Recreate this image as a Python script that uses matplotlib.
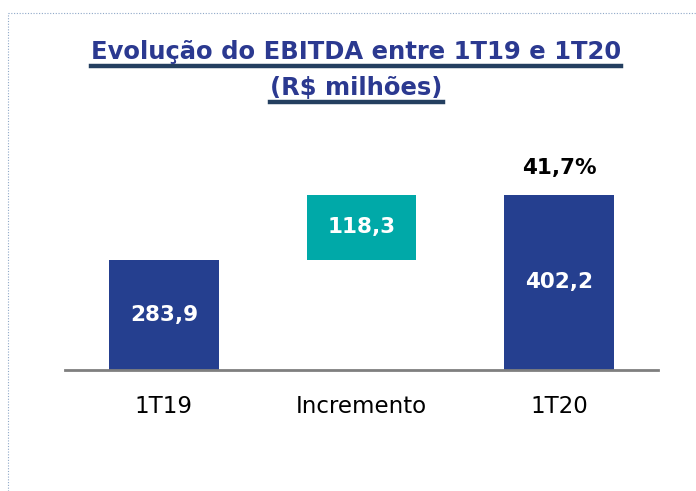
import numpy as np
import matplotlib.pyplot as plt
from matplotlib.lines import Line2D

categories = ["1T19", "Incremento", "1T20"]
starts = [0, 283.9, 0]
values = [283.9, 118.3, 402.2]
labels = ["283,9", "118,3", "402,2"]
growth = "41,7%"

navy = "#253f8f"
teal = "#00a9a8"
colors = [navy, teal, navy]

fig = plt.figure(figsize=(6.96, 4.91), dpi=100)
ax = fig.add_axes([0.0934, 0.2464, 0.852, 0.4888])

x = np.arange(len(categories))
bars = ax.bar(x, values, bottom=starts, width=0.555, color=colors)

for b, lab in zip(bars, labels):
    cx = b.get_x() + b.get_width() / 2
    cy = b.get_y() + b.get_height() / 2
    if b.get_y() == 0:
        cy = 84 + (b.get_y() + b.get_height() - 84) / 2
    ax.text(cx, cy, lab, ha="center", va="center", color="white",
            fontsize=15.5, fontweight="bold")

ax.text(x[2], values[2] + 30, growth, ha="center", va="bottom",
        fontsize=15.5, fontweight="bold", color="black")

ax.set_xlim(-0.5, 2.5)
ax.set_ylim(84, 520)
ax.set_xticks(x)
ax.set_xticklabels(categories, fontsize=16.5)
ax.tick_params(axis="x", length=0, pad=18)
ax.set_yticks([])
for s in ["top", "right", "left"]:
    ax.spines[s].set_visible(False)
ax.spines["bottom"].set_color("#7f7f7f")
ax.spines["bottom"].set_linewidth(2)

t1 = fig.text(0.512, 0.895, "Evolução do EBITDA entre 1T19 e 1T20", ha="center",
              va="center", fontsize=17.5, fontweight="bold", color="#2b3990")
t2 = fig.text(0.512, 0.82, "(R$ milhões)", ha="center", va="center",
              fontsize=17.5, fontweight="bold", color="#2b3990")

# underline the title lines
fig.canvas.draw()
r = fig.canvas.get_renderer()
for t in [t1, t2]:
    bb = t.get_window_extent(r).transformed(fig.transFigure.inverted())
    y = bb.y0 - 0.004
    fig.add_artist(Line2D([bb.x0, bb.x1], [y, y], transform=fig.transFigure,
                          color="#243f60", lw=3.2))

# dotted frame on top and left
fig.add_artist(Line2D([0.011, 1.0], [0.973, 0.973], transform=fig.transFigure,
                      color="#8fa8c8", lw=0.8, ls=(0, (1, 1.5))))
fig.add_artist(Line2D([0.011, 0.011], [0.0, 0.973], transform=fig.transFigure,
                      color="#8fa8c8", lw=0.8, ls=(0, (1, 1.5))))

fig.savefig("out.png", dpi=100)
